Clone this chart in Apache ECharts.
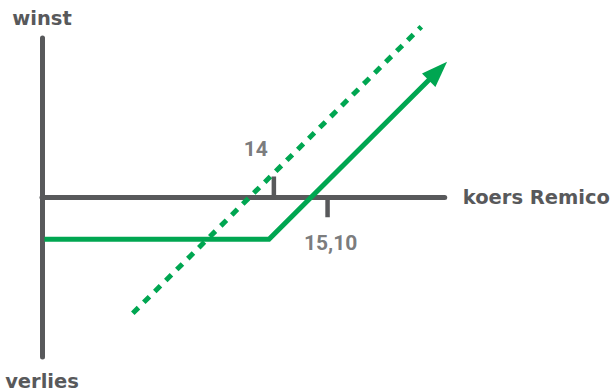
<!DOCTYPE html>
<html>
<head>
<meta charset="utf-8">
<script src="https://cdn.jsdelivr.net/npm/echarts@6/dist/echarts.min.js"></script>
<style>
  html, body { margin: 0; padding: 0; background: #fff; }
  #chart { width: 613px; height: 392px; }
</style>
</head>
<body>
<div id="chart"></div>
<script>
// koers (x) / winst (y) schematic
const axisNames = ['koers Remico', 'winst', 'verlies'];
const tickValues = [14, 15.10];
const tickLabels = ['14', '15,10'];
const tickLengths = [0.42, -0.41];   // up for 14, down for 15,10

// solid line: flat loss, then rising with arrow
const payoffLine = [[9.3, -0.86], [13.9, -0.86], [17.36, 2.58]];
// dotted line
const dottedLine = [[11.11, -2.375], [17.02, 3.486]];

const gray = '#58595b';
const green = '#00a651';
const wordFont = '"DejaVu Sans", sans-serif';
const numFont = 'Roboto, sans-serif';

const nameStyle = { color: gray, fontSize: 19.5, fontWeight: 'bold', fontFamily: wordFont };

const chart = echarts.init(document.getElementById('chart'), null, { renderer: 'svg' });

const tickSeries = tickValues.map(function (v, i) {
    return {
        type: 'line',
        data: [[v, 0], [v, tickLengths[i]]],
        symbol: 'none',
        lineStyle: { color: gray, width: 4.5, cap: 'butt' },
        z: 3,
        silent: true
    };
});

chart.setOption({
    animation: false,
    grid: { left: 42, right: 168, top: 38, bottom: 35 },
    xAxis: {
        type: 'value',
        min: 9.25,
        max: 17.5,
        axisLine: { onZero: true, lineStyle: { color: gray, width: 5 } },
        axisTick: { show: false },
        axisLabel: { show: false },
        splitLine: { show: false },
        name: axisNames[0],
        nameLocation: 'end',
        nameGap: 18,
        nameTextStyle: nameStyle
    },
    yAxis: [{
        type: 'value',
        min: -3.27,
        max: 3.255,
        axisLine: { onZero: false, lineStyle: { color: gray, width: 5 } },
        axisTick: { show: false },
        axisLabel: { show: false },
        splitLine: { show: false },
        name: axisNames[1],
        nameLocation: 'end',
        nameGap: 10,
        nameTextStyle: nameStyle
    }, {
        type: 'value',
        min: -3.27,
        max: 3.255,
        position: 'left',
        axisLine: { show: false },
        axisTick: { show: false },
        axisLabel: { show: false },
        splitLine: { show: false },
        name: axisNames[2],
        nameLocation: 'start',
        nameGap: 14,
        nameTextStyle: nameStyle
    }],
    series: tickSeries.concat([
        {
            type: 'scatter',
            data: [
                { value: [tickValues[0], 0], label: { formatter: tickLabels[0], offset: [-18, -48] } },
                { value: [tickValues[1], 0], label: { formatter: tickLabels[1], offset: [3, 46] } }
            ],
            symbolSize: 0,
            silent: true,
            label: {
                show: true,
                position: 'inside',
                color: gray,
                fontSize: 21,
                fontWeight: 'bold',
                fontFamily: numFont
            }
        },
        {
            type: 'line',
            data: dottedLine,
            symbol: 'none',
            clip: false,
            lineStyle: { color: green, width: 5, type: [8, 7.5], cap: 'butt' },
            z: 4,
            silent: true
        },
        {
            type: 'line',
            data: payoffLine.map(function (p, i) {
                if (i === payoffLine.length - 1) {
                    return { value: p, symbol: 'triangle', symbolSize: [19, 26], symbolRotate: -45 };
                }
                return { value: p, symbol: 'none' };
            }),
            clip: false,
            itemStyle: { color: green },
            lineStyle: { color: green, width: 5, join: 'miter' },
            z: 5,
            silent: true
        }
    ])
});
</script>
</body>
</html>
